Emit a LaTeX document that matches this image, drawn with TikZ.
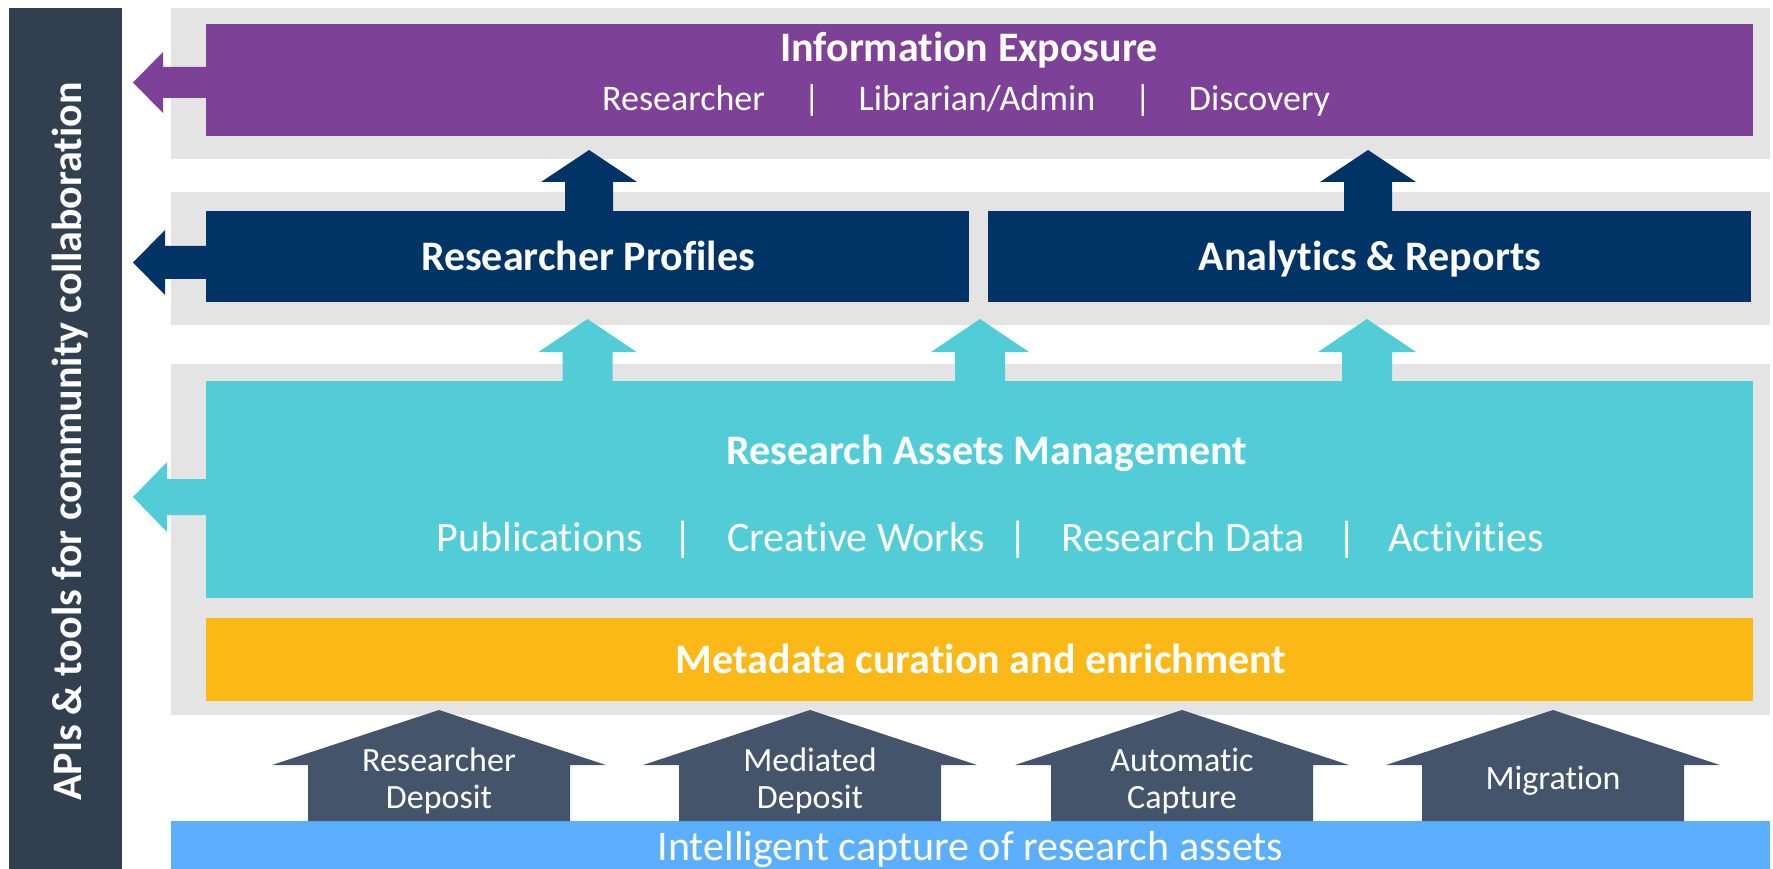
\documentclass[tikz,border=0pt]{standalone}
\usepackage{fontspec}
\setmainfont{Carlito}[Ligatures=NoCommon]
\definecolor{expo}{HTML}{7D4297}
\definecolor{navy}{HTML}{003366}
\definecolor{assets}{HTML}{52CDD8}
\definecolor{meta}{HTML}{FCB817}
\definecolor{band}{HTML}{E4E4E4}
\definecolor{apibar}{HTML}{323F4F}
\definecolor{capture}{HTML}{44546A}
\definecolor{intel}{HTML}{5CAEFF}
\tikzset{
txt/.style={text=white, inner sep=0pt, anchor=base},
headtxt/.style={txt, font=\bfseries\fontsize{42}{50}\selectfont},
itemtxt/.style={txt, font=\fontsize{42}{50}\selectfont},
roletxt/.style={txt, font=\fontsize{36}{43}\selectfont},
srctxt/.style={txt, anchor=center, align=center, font=\fontsize{34}{37.3}\selectfont}
}

\begin{document}
\begin{tikzpicture}[x=1pt,y=-1pt]
      \useasboundingbox (0,0) rectangle (1773,869);
      % side bar
      \fill [apibar] (9,8) rectangle (122,869);
      \node [headtxt, rotate=90] (apis) at (81,441.5)
      {APIs \& tools for community collaboration};
      % grey bands
      \fill [band] (171,8) rectangle (1770,159);
      \fill [band] (171,192) rectangle (1770,325);
      \fill [band] (171,364) rectangle (1770,715);
      % layers
      \fill [expo] (206,24) rectangle (1753,136);
      \fill [navy] (206,211) rectangle (969,302);
      \fill [navy] (988,211) rectangle (1751,302);
      \fill [assets] (206,381) rectangle (1753,598);
      \fill [meta] (206,618) rectangle (1753,701);
      \fill [intel] (171,821) rectangle (1770,869);
      % arrows to the side bar
      \fill [expo] (206,67) -- (163,67) -- (163,52) -- (133,82.5) -- (163,113)
      -- (163,98) -- (206,98) -- cycle;
      \fill [navy] (206,246) -- (165,246) -- (165,230) -- (133,262.5) -- (165,295)
      -- (165,279) -- (206,279) -- cycle;
      \fill [assets] (206,479) -- (167,479) -- (167,462) -- (133,497) -- (167,532)
      -- (167,515) -- (206,515) -- cycle;
      % arrows up
      \fill [navy] (589,150) -- ++(48,32) -- ++(-24,0) -- ++(0,29) -- ++(-48,0)
      -- ++(0,-29) -- ++(-24,0) -- cycle;
      \fill [navy] (1368,150) -- ++(48,32) -- ++(-24,0) -- ++(0,29) -- ++(-48,0)
      -- ++(0,-29) -- ++(-24,0) -- cycle;
      \fill [assets] (587.5,319) -- ++(49,33) -- ++(-24,0) -- ++(0,29) -- ++(-50,0)
      -- ++(0,-29) -- ++(-24,0) -- cycle;
      \fill [assets] (980,319) -- ++(49,33) -- ++(-24,0) -- ++(0,29) -- ++(-50,0)
      -- ++(0,-29) -- ++(-24,0) -- cycle;
      \fill [assets] (1367,319) -- ++(49,33) -- ++(-24,0) -- ++(0,29) -- ++(-50,0)
      -- ++(0,-29) -- ++(-24,0) -- cycle;
      % capture arrows
      \fill [capture] (439,710) -- ++(167,55) -- ++(-36,0) -- ++(0,56) -- ++(-262,0)
      -- ++(0,-56) -- ++(-36,0) -- cycle;
      \fill [capture] (810,710) -- ++(167,55) -- ++(-36,0) -- ++(0,56) -- ++(-262,0)
      -- ++(0,-56) -- ++(-36,0) -- cycle;
      \fill [capture] (1182,710) -- ++(167,55) -- ++(-36,0) -- ++(0,56) -- ++(-262,0)
      -- ++(0,-56) -- ++(-36,0) -- cycle;
      \fill [capture] (1553,710) -- ++(167,55) -- ++(-36,0) -- ++(0,56) -- ++(-262,0)
      -- ++(0,-56) -- ++(-36,0) -- cycle;
      % texts
      \node [headtxt] (expohead) at (969,61.7) {Information Exposure};
      \node [roletxt] (rsr) at (683.5,111) {Researcher};
      \node [roletxt] (sepa) at (812,111) {|};
      \node [roletxt] (lib) at (977,111) {Librarian/Admin};
      \node [roletxt] (sepb) at (1143,111) {|};
      \node [roletxt] (disc) at (1259.5,111) {Discovery};
      \node [headtxt] (profiles) at (588,270) {Researcher Profiles};
      \node [headtxt] (analytics) at (1370,270) {Analytics \& Reports};
      \node [headtxt] (assetshead) at (987,464) {Research Assets Management};
      \node [itemtxt] (pubs) at (540,551.7) {Publications};
      \node [itemtxt] (sepc) at (683,551.7) {|};
      \node [itemtxt] (works) at (856,551.7) {Creative Works};
      \node [itemtxt] (sepd) at (1018.6,551.7) {|};
      \node [itemtxt] (data) at (1183,551.7) {Research Data};
      \node [itemtxt] (sepe) at (1347,551.7) {|};
      \node [itemtxt] (acts) at (1466,551.7) {Activities};
      \node [headtxt] (metahead) at (981,673.3) {Metadata curation and enrichment};
      \node [srctxt] (rdep) at (439,781) {Researcher\\Deposit};
      \node [srctxt] (mdep) at (810,781) {Mediated\\Deposit};
      \node [srctxt] (auto) at (1182,781) {Automatic\\Capture};
      \node [srctxt] (migr) at (1553,781) {Migration};
      \node [itemtxt] (intelhead) at (970.5,860) {Intelligent capture of research assets};
\end{tikzpicture}
\end{document}
